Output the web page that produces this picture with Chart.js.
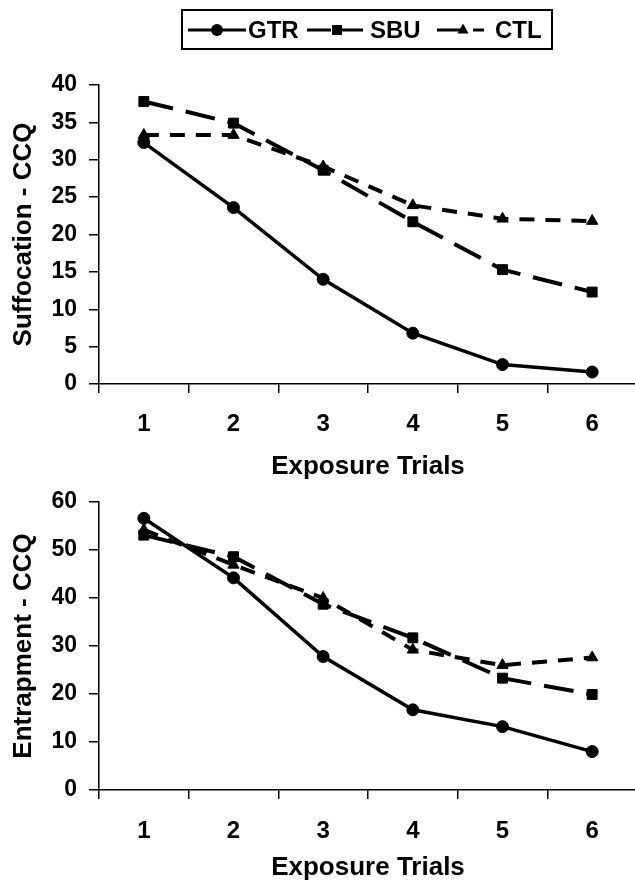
<!DOCTYPE html>
<html>
<head>
<meta charset="utf-8">
<script src="https://cdn.jsdelivr.net/npm/chart.js@4.4.0/dist/chart.umd.min.js"></script>
<style>
html, body { margin: 0; padding: 0; background: #fff; overflow: hidden; width: 635px; height: 886px; }
.box { position: absolute; left: 0; width: 645px; }
</style>
</head>
<body>
<div class="box" style="top:472px;height:414px"><canvas id="bottomChart"></canvas></div>
<div class="box" style="top:0;height:482px"><canvas id="topChart"></canvas></div>
<script>
const trials = ['1', '2', '3', '4', '5', '6'];
const groups = ['GTR', 'SBU', 'CTL'];

// Suffocation - CCQ
const suffGTR = [32.3, 23.6, 14.0, 6.8, 2.6, 1.6];
const suffSBU = [37.8, 34.9, 28.6, 21.7, 15.3, 12.3];
const suffCTL = [33.3, 33.3, 29.1, 23.9, 22.1, 21.8];

// Entrapment - CCQ
const entrGTR = [56.6, 44.2, 27.8, 16.7, 13.2, 8.0];
const entrSBU = [53.1, 48.6, 38.7, 31.7, 23.3, 19.9];
const entrCTL = [54.2, 46.9, 40.0, 29.2, 26.0, 27.6];

const FONT = "'Liberation Sans', Arial, sans-serif";
const styles = [
  { pointStyle: 'circle', pointRadius: 6, borderWidth: 3.5, borderDash: [] },
  { pointStyle: 'rect', pointRadius: 7, borderWidth: 4, borderDash: [30, 13] },
  { pointStyle: 'triangle', pointRadius: 6.5, borderWidth: 4, borderDash: [15, 11] }
];

function makeDatasets(series) {
  return series.map((data, i) => ({
    label: groups[i],
    data: data,
    borderColor: '#000',
    backgroundColor: '#000',
    pointBackgroundColor: '#000',
    pointBorderColor: '#000',
    pointBorderWidth: 1,
    tension: 0,
    ...styles[i]
  }));
}

function marker(ctx, style, x, y) {
  ctx.save();
  ctx.setLineDash([]);
  ctx.fillStyle = '#000';
  ctx.beginPath();
  if (style === 'circle') {
    ctx.arc(x, y, 6, 0, Math.PI * 2);
  } else if (style === 'rect') {
    ctx.rect(x - 5, y - 5, 10, 10);
  } else {
    ctx.moveTo(x, y - 6.5);
    ctx.lineTo(x + 5.6, y + 3.5);
    ctx.lineTo(x - 5.6, y + 3.5);
    ctx.closePath();
  }
  ctx.fill();
  ctx.restore();
}

const legendBox = {
  id: 'legendBox',
  afterDraw(chart) {
    const ctx = chart.ctx;
    ctx.save();
    ctx.strokeStyle = '#000';
    ctx.lineWidth = 2;
    ctx.strokeRect(182, 10, 370, 39);
    const items = [
      { x0: 188, x1: 246, m: 217, tx: 248 },
      { x0: 307, x1: 363, m: 337, tx: 370 },
      { x0: 437, x1: 484, m: 463, tx: 495 }
    ];
    const legendDash = [[], [24, 10], [24, 12]];
    items.forEach((it, i) => {
      ctx.beginPath();
      ctx.lineWidth = 3;
      ctx.setLineDash(legendDash[i]);
      ctx.moveTo(it.x0, 30);
      ctx.lineTo(it.x1, 30);
      ctx.stroke();
      marker(ctx, styles[i].pointStyle, it.m, 30);
      ctx.fillStyle = '#000';
      ctx.font = 'bold 24px ' + FONT;
      ctx.textBaseline = 'middle';
      ctx.textAlign = 'left';
      ctx.fillText(groups[i], it.tx, 31);
    });
    ctx.restore();
  }
};

function makeOptions(yTitle, yMax, yStep, padTop, xHeight, xPad, xTitlePad) {
  return {
    responsive: true,
    maintainAspectRatio: false,
    animation: false,
    layout: { padding: { top: padTop, right: 3, left: 0, bottom: 0 } },
    plugins: { legend: { display: false }, tooltip: { enabled: false } },
    scales: {
      x: {
        offset: true,
        ticks: { color: '#000', font: { family: FONT, size: 24, weight: 'bold' }, padding: xPad },
        grid: { offset: true, drawOnChartArea: false, drawTicks: true, tickLength: 9, color: '#000', lineWidth: 1.5 },
        border: { color: '#000', width: 1.5 },
        title: { display: true, text: 'Exposure Trials', color: '#000', font: { family: FONT, size: 26, weight: 'bold' }, padding: { top: 0, bottom: xTitlePad } },
        afterFit: s => { s.height = xHeight; }
      },
      y: {
        min: 0,
        max: yMax,
        ticks: { stepSize: yStep, color: '#000', font: { family: FONT, size: 23, weight: 'bold' }, padding: 12 },
        grid: { drawOnChartArea: false, drawTicks: true, tickLength: 10, color: '#000', lineWidth: 1.5 },
        border: { color: '#000', width: 1.5 },
        title: { display: true, text: yTitle, color: '#000', font: { family: FONT, size: 26, weight: 'bold' }, padding: { top: 8, bottom: 0 } },
        afterFit: s => { s.width = 99; }
      }
    }
  };
}

new Chart(document.getElementById('topChart'), {
  type: 'line',
  data: { labels: trials, datasets: makeDatasets([suffGTR, suffSBU, suffCTL]) },
  options: makeOptions('Suffocation - CCQ', 40, 5, 85, 98, 17, 0),
  plugins: [legendBox]
});

new Chart(document.getElementById('bottomChart'), {
  type: 'line',
  data: { labels: trials, datasets: makeDatasets([entrGTR, entrSBU, entrCTL]) },
  options: makeOptions('Entrapment - CCQ', 60, 10, 30, 96, 18, 3)
});
</script>
</body>
</html>
